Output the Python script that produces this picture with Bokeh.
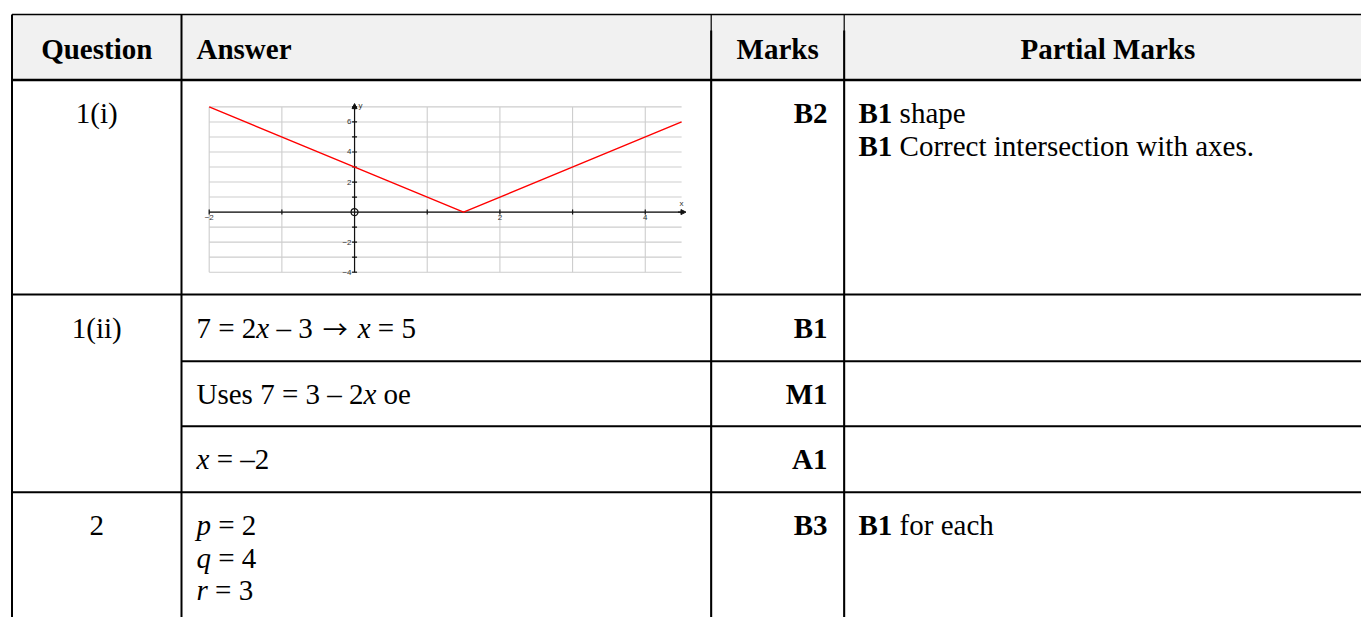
import math
from bokeh.plotting import figure
from bokeh.models import Range1d, Arrow, NormalHead
from bokeh.core.properties import value
from bokeh.embed import file_html
from bokeh.resources import INLINE

# ------------------------------------------------------------------ data
headers = ["Question", "Answer", "Marks", "Partial Marks"]
questions = ["1(i)", "1(ii)", "2"]
answers_1ii = ["7 = 2*x* – 3 → *x* = 5", "Uses 7 = 3 – 2*x* oe", "*x* = –2"]
answers_2 = ["*p* = 2", "*q* = 4", "*r* = 3"]
marks = ["B2", "B1", "M1", "A1", "B3"]
partial_1i = ["**B1** shape", "**B1** Correct intersection with axes."]
partial_2 = ["**B1** for each"]

# inset graph of y = |2x - 3|
graph_x = [-2, 1.5, 4.5]
graph_y = [7, 0, 6]
x_tick_vals = [-2, 2, 4]
x_tick_labels = ["−2", "2", "4"]
y_tick_vals = [6, 4, 2, -2, -4]
y_tick_labels = ["6", "4", "2", "−2", "−4"]
x_minor_ticks = [-2, -1, 1, 2, 3, 4]
y_minor_ticks = [-4, -3, -2, -1, 1, 2, 3, 4, 5, 6, 7]
grid_x = [-2, -1, 0, 1, 2, 3, 4]
grid_y = [-4, -3, -2, -1, 0, 1, 2, 3, 4, 5, 6, 7]
graph_xlim = (-2, 4.5)
graph_ylim = (-4, 7)

# ------------------------------------------------------------------ layout
W, H = 1361, 617
PX0, PX1 = 0, W
PY0, PY1 = 0, H
FONT = "Liberation Serif"
FS = 29
FS_PX = "29px"

COL_L, COL_1, COL_2, COL_3, COL_R = 11.5, 181, 710.7, 843.7, 1371
TOP, HEAD_B = 14, 79.5
ROW_1, ROW_2A, ROW_2B, ROW_2C, ROW_3 = 79.5, 294, 360.7, 425.7, 491.7
BOTTOM = 640
BASE_OFF = 33
LINE_H = 32.5
HEAD_BASE = 48

p = figure(width=W, height=H, x_range=Range1d(PX0, PX1), y_range=Range1d(PY1, PY0),
           output_backend="svg", toolbar_location=None,
           x_axis_location=None, y_axis_location=None,
           min_border=0, outline_line_color=None,
           background_fill_color="white", border_fill_color="white")
p.grid.visible = False

# header background
p.quad(left=[COL_L], right=[COL_R], top=[TOP], bottom=[HEAD_B],
       fill_color="#f1f1f1", line_color=None)

# ------------------------------------------------------------------ inset graph
GX0, GX1 = 208.7, 681.1
GY_T, GY_B = 106.4, 271.7
sx = (graph_xlim[1] - graph_xlim[0]) / (GX1 - GX0)
sy = (graph_ylim[1] - graph_ylim[0]) / (GY_B - GY_T)
p.extra_x_ranges = {"g": Range1d(graph_xlim[0] - (GX0 - PX0) * sx,
                                 graph_xlim[1] + (PX1 - GX1) * sx)}
p.extra_y_ranges = {"g": Range1d(graph_ylim[0] - (PY1 - GY_B) * sy,
                                 graph_ylim[1] + (GY_T - PY0) * sy)}
G = dict(x_range_name="g", y_range_name="g")

p.segment(x0=grid_x, y0=[graph_ylim[0]] * len(grid_x), x1=grid_x, y1=[graph_ylim[1]] * len(grid_x),
          line_color="#cdcdcd", line_width=1.1, **G)
p.segment(x0=[graph_xlim[0]] * len(grid_y), y0=grid_y, x1=[graph_xlim[1]] * len(grid_y), y1=grid_y,
          line_color="#cdcdcd", line_width=1.1, **G)

# axes
p.segment(x0=[graph_xlim[0], 0], y0=[0, graph_ylim[0]], x1=[graph_xlim[1] + 0.03, 0],
          y1=[0, graph_ylim[1] + 0.1], line_color="#111111", line_width=1.2, **G)
p.add_layout(Arrow(end=NormalHead(size=5, fill_color="#111111", line_color="#111111"),
                   x_start=graph_xlim[1] - 0.05, y_start=0, x_end=graph_xlim[1] + 0.06, y_end=0,
                   line_color="#111111", line_width=1.2, **G))
p.add_layout(Arrow(end=NormalHead(size=5, fill_color="#111111", line_color="#111111"),
                   x_start=0, y_start=graph_ylim[1] - 0.2, x_end=0, y_end=graph_ylim[1] + 0.22,
                   line_color="#111111", line_width=1.2, **G))
p.scatter(x=x_minor_ticks, y=[0] * len(x_minor_ticks), marker="dash", size=5, angle=math.pi / 2,
          line_color="#111111", line_width=1.2, **G)
p.scatter(x=[0] * len(y_minor_ticks), y=y_minor_ticks, marker="dash", size=5,
          line_color="#111111", line_width=1.2, **G)
p.scatter(x=[0], y=[0], marker="circle", size=7, fill_color=None, line_color="#111111",
          line_width=1.2, **G)

p.text(x=x_tick_vals, y=[0] * len(x_tick_vals), text=x_tick_labels, text_align="center",
       text_baseline="top", y_offset=3, text_font=value("Liberation Sans"),
       text_font_size="8px", text_color="#333333", **G)
p.text(x=[0] * len(y_tick_vals), y=y_tick_vals, text=y_tick_labels, text_align="right",
       text_baseline="middle", x_offset=-3, text_font=value("Liberation Sans"),
       text_font_size="8px", text_color="#333333", **G)
p.text(x=[graph_xlim[1]], y=[0], text=["x"], text_align="center", text_baseline="bottom",
       y_offset=-4, text_font=value("Liberation Sans"), text_font_size="8px",
       text_color="#333333", **G)
p.text(x=[0], y=[graph_ylim[1]], text=["y"], text_align="left", text_baseline="middle",
       x_offset=4, y_offset=-1, text_font=value("Liberation Sans"), text_font_size="8px",
       text_color="#333333", **G)

p.line(x=graph_x, y=graph_y, line_color="#ff0000", line_width=1.4, **G)

# ------------------------------------------------------------------ table lines
thick = 2.0
hx0 = [COL_L, COL_L, COL_L, COL_1, COL_1, COL_L]
hx1 = [COL_R] * 6
hy = [TOP, HEAD_B, ROW_2A, ROW_2B, ROW_2C, ROW_3]
hw = [1.6, 2.6, thick, thick, thick, thick]
p.segment(x0=hx0, y0=hy, x1=hx1, y1=hy, line_color="black", line_width=hw)
vx = [COL_L, COL_1, COL_2, COL_3, COL_R]
p.segment(x0=vx, y0=[TOP] * 5, x1=vx, y1=[BOTTOM] * 5, line_color="black",
          line_width=[thick, thick, 1.2, 1.2, thick])
p.segment(x0=[COL_2, COL_3], y0=[30, 30], x1=[COL_2, COL_3], y1=[BOTTOM, BOTTOM],
          line_color="black", line_width=thick)

# ------------------------------------------------------------------ text
WIDTHS = {
    "normal": {" ": 250, "(": 333, ")": 333, "=": 564, "–": 500, ".": 250,
               "U": 722, "C": 667, "a": 444, "c": 444, "e": 444, "f": 333, "h": 500,
               "i": 278, "n": 500, "o": 500, "p": 500, "r": 333, "s": 389, "t": 278,
               "w": 722, "x": 500},
    "italic": {"x": 444, "p": 500, "q": 500, "r": 389, " ": 250},
    "bold": {"B": 667, "M": 944, "A": 722, " ": 250},
    "symbol": {"→": 1050},
}
STYLE_FONT = {"normal": (FONT, FS_PX, "normal"), "italic": (FONT, FS_PX, "italic"),
              "bold": (FONT, FS_PX, "bold"), "symbol": ("Noto Sans CJK JP", "25px", "normal")}


def parse(s):
    out, style, buf, i = [], "normal", "", 0

    def flush():
        nonlocal buf
        if buf:
            out.append((buf, style))
            buf = ""

    while i < len(s):
        if s.startswith("**", i):
            flush()
            style = "normal" if style == "bold" else "bold"
            i += 2
        elif s[i] == "*":
            flush()
            style = "normal" if style == "italic" else "italic"
            i += 1
        elif s[i] == "→":
            flush()
            out.append(("→", "symbol"))
            i += 1
        else:
            buf += s[i]
            i += 1
    flush()
    return out


def width(t, style):
    return sum(WIDTHS[style].get(ch, 500) for ch in t) * FS / 1000.0


runs = {k: ([], [], []) for k in STYLE_FONT}


def put_rich(s, x, y):
    for t, style in parse(s):
        core = t.strip(" ")
        lead = len(t) - len(t.lstrip(" "))
        if core:
            xs, ys, ts = runs[style]
            cx = x + width(" " * lead, "normal")
            if style == "symbol":
                xs.append(cx + width(core, style) / 2)
            else:
                xs.append(cx)
            ys.append(y)
            ts.append(core)
        x += width(t, style)


# answers
for k, s in enumerate(answers_1ii):
    put_rich(s, 196, [ROW_2A, ROW_2B, ROW_2C][k] + BASE_OFF)
for k, s in enumerate(answers_2):
    put_rich(s, 196, ROW_3 + BASE_OFF + k * LINE_H)
for k, s in enumerate(partial_1i):
    put_rich(s, 858, ROW_1 + BASE_OFF + k * LINE_H)
for k, s in enumerate(partial_2):
    put_rich(s, 858, ROW_3 + BASE_OFF + k * LINE_H)

for style, (xs, ys, ts) in runs.items():
    if not xs:
        continue
    fnt, fsz, fst = STYLE_FONT[style]
    p.text(x=xs, y=ys, text=ts, text_align="center" if style == "symbol" else "left",
           text_baseline="alphabetic",
           text_font=value(fnt), text_font_size=fsz, text_font_style=fst,
           text_color="black")

# headers
p.text(x=[(COL_L + COL_1) / 2, 196, (COL_2 + COL_3) / 2, (COL_3 + COL_R) / 2],
       y=[HEAD_BASE] * 4, text=headers, text_align=["center", "left", "center", "center"],
       text_baseline="alphabetic", text_font=value(FONT), text_font_size=FS_PX,
       text_font_style="bold", text_color="black")

# question labels
q_rows = [ROW_1, ROW_2A, ROW_3]
p.text(x=[(COL_L + COL_1) / 2] * 3, y=[r + BASE_OFF for r in q_rows], text=questions,
       text_align="center", text_baseline="alphabetic", text_font=value(FONT),
       text_font_size=FS_PX, text_color="black")

# marks
m_rows = [ROW_1, ROW_2A, ROW_2B, ROW_2C, ROW_3]
p.text(x=[827] * 5, y=[r + BASE_OFF for r in m_rows], text=marks, text_align="right",
       text_baseline="alphabetic", text_font=value(FONT), text_font_size=FS_PX,
       text_font_style="bold", text_color="black")

open("out.html", "w").write(file_html(p, INLINE))
